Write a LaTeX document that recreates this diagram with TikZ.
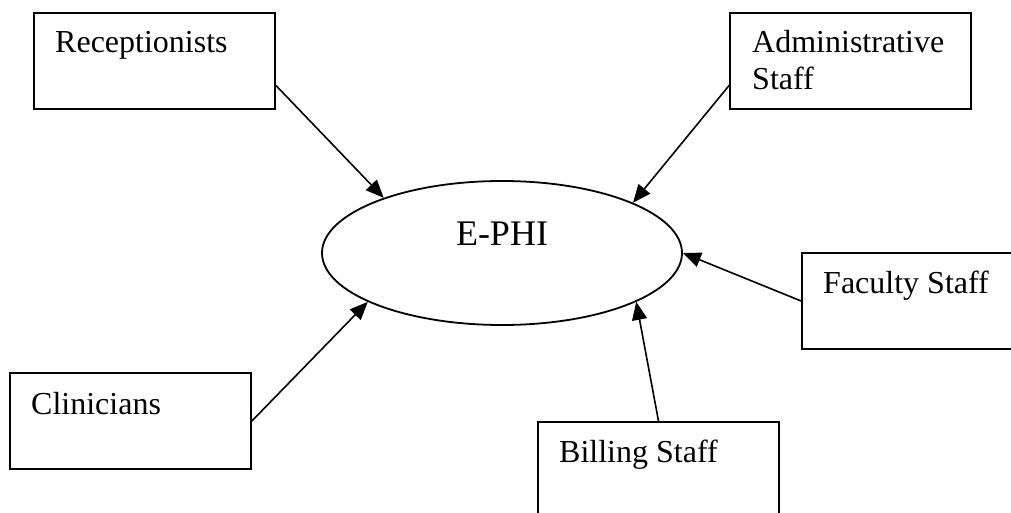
\documentclass[tikz,border=0pt]{standalone}
\usepackage{fontspec}
\setmainfont{Liberation Serif}
\usetikzlibrary{arrows.meta,calc,shapes.geometric}
\begin{document}
\begin{tikzpicture}[x=1pt,y=-1pt,
  actor/.style={draw,line width=1.8pt,rectangle,minimum width=241pt,minimum height=96pt,inner sep=0pt},
  actortext/.style={anchor=base west,inner sep=0pt,font=\fontsize{32}{37}\selectfont,align=left},
  store/.style={draw,line width=1.8pt,ellipse,minimum width=360pt,minimum height=144pt,inner sep=0pt},
  flow/.style={line width=1.6pt,-{Triangle[length=18pt,width=15pt]}}]
  \useasboundingbox (0,0) rectangle (1011,513);
  \fill[white] (0,0) rectangle (1011,513);
  \clip (0,0) rectangle (1011,513);

  % central data store
  \node[store] (ephi) at (502,253) {};
  \node[anchor=base,inner sep=0pt,font=\fontsize{36}{40}\selectfont] (ephitext) at (502,245) {E-PHI};

  % user groups (two-line labels sit on the baseline of their last line)
  \node[actor] (rec) at (154.5,61) {};
  \node[actortext] (rectext) at (55,53) {Receptionists};

  \node[actor] (adm) at (850.5,61) {};
  \node[actortext] (admtext) at (752,90) {Administrative\\Staff};

  \node[actor] (fac) at (922.5,301) {};
  \node[actortext] (factext) at (823,293) {Faculty Staff};

  \node[actor] (cli) at (130.5,421) {};
  \node[actortext] (clitext) at (31,414) {Clinicians};

  \node[actor] (bil) at (658.5,470) {};
  \node[actortext] (biltext) at (559,462) {Billing Staff};

  % access flows into the store
  \draw[flow] ($(rec.north east)!0.75!(rec.south east)$) -- (ephi.155);
  \draw[flow] ($(adm.north west)!0.75!(adm.south west)$) -- (ephi.21);
  \draw[flow] (fac.west) -- (ephi.0);
  \draw[flow] (cli.east) -- (ephi.200);
  \draw[flow] (bil.north) -- (ephi.-20);
\end{tikzpicture}
\end{document}
